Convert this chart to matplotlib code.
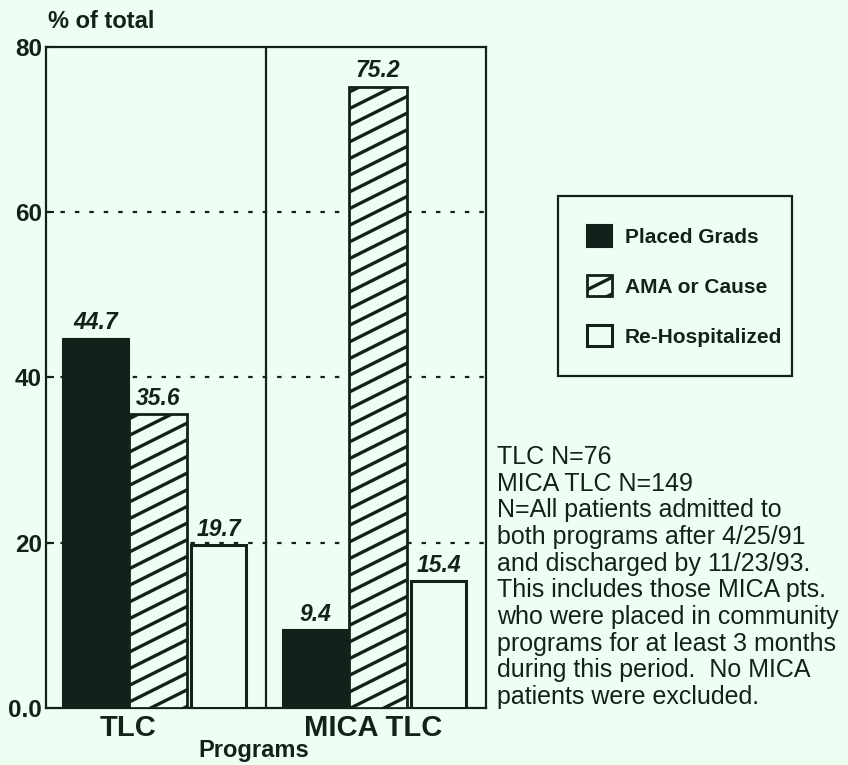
import numpy as np
import matplotlib
matplotlib.use("Agg")
import matplotlib.pyplot as plt
from matplotlib import hatch as mhatch
from matplotlib.path import Path

# ---- data -------------------------------------------------------------
programs = ["TLC", "MICA TLC"]
outcomes = ["Placed Grads", "AMA or Cause", "Re-Hospitalized"]
placed_grads = [44.7, 9.4]
ama_or_cause = [35.6, 75.2]
re_hospitalized = [19.7, 15.4]
y_ticks = [0, 20, 40, 60, 80]
y_tick_labels = ["0.0", "20", "40", "60", "80"]
note_lines = [
    "TLC N=76",
    "MICA TLC N=149",
    "N=All patients admitted to",
    "both programs after 4/25/91",
    "and discharged by 11/23/93.",
    "This includes those MICA pts.",
    "who were placed in community",
    "programs for at least 3 months",
    "during this period.  No MICA",
    "patients were excluded.",
]

BG = "#edfff3"
INK = "#13211a"


# '/' hatch drawn as shallow diagonal strokes (slope 1/2) that still tile
class ShallowNorthEastHatch(mhatch.HatchPatternBase):
    def __init__(self, hatch, density):
        self.num_lines = int(hatch.count('/') * density)
        self.offsets = (np.arange(-self.num_lines // 2, self.num_lines + 1)
                        / self.num_lines) if self.num_lines else np.array([])
        self.num_vertices = len(self.offsets) * 2

    def set_vertices_and_codes(self, vertices, codes):
        c = self.offsets
        vertices[0::2, 0] = 0.0
        vertices[0::2, 1] = c
        vertices[1::2, 0] = 1.0
        vertices[1::2, 1] = c + 0.5
        codes[0::2] = Path.MOVETO
        codes[1::2] = Path.LINETO


mhatch._hatch_types[:] = [ShallowNorthEastHatch if t is mhatch.NorthEastHatch else t
                          for t in mhatch._hatch_types]

plt.rcParams["font.family"] = ["Liberation Sans", "DejaVu Sans"]
plt.rcParams["hatch.linewidth"] = 2.4
plt.rcParams["hatch.color"] = INK

fig = plt.figure(figsize=(8.48, 7.65), dpi=100, facecolor=BG)
ax = fig.add_axes([46 / 848, 1 - 708 / 765, 440 / 848, 661 / 765], facecolor=BG)

group_x = np.arange(len(programs))
series = [placed_grads, ama_or_cause, re_hospitalized]
offsets = [0.075, 0.378, 0.66]
widths = [0.302, 0.262, 0.248]
styles = [
    dict(color=INK, edgecolor=INK, linewidth=1.5),
    dict(color=BG, edgecolor=INK, linewidth=2.0, hatch="/"),
    dict(color=BG, edgecolor=INK, linewidth=2.2),
]

handles = []
for vals, off, w, st, name in zip(series, offsets, widths, styles, outcomes):
    bars = ax.bar(group_x + off, vals, width=w, align="edge", zorder=3,
                  label=name, **st)
    handles.append(bars)
    for rect, v in zip(bars, vals):
        ax.annotate(f"{v:.1f}", (rect.get_x() + rect.get_width() / 2, v),
                    xytext=(0, 3), textcoords="offset points",
                    ha="center", va="bottom", fontsize=16.5,
                    fontweight="bold", fontstyle="italic", color=INK, zorder=4)

# dotted reference lines and panel divider
for y in y_ticks[1:-1]:
    ax.axhline(y, color=INK, linewidth=1.6, linestyle=(0, (2, 4.5)), zorder=1)
ax.axvline(1.0, color=INK, linewidth=1.6, zorder=2)

ax.set_xlim(0, 2)
ax.set_ylim(0, 80)
ax.set_yticks(y_ticks)
ax.set_yticklabels(y_tick_labels)
ax.set_xticks([0.373, 1.486])
ax.set_xticklabels(programs)
ax.tick_params(axis="y", direction="in", length=6, width=1.5, color=INK,
               pad=3, labelsize=17.5, labelcolor=INK)
ax.tick_params(axis="x", length=0, pad=4, labelsize=21, labelcolor=INK)
for lbl in ax.get_xticklabels() + ax.get_yticklabels():
    lbl.set_fontweight("bold")
for sp in ax.spines.values():
    sp.set_color(INK)
    sp.set_linewidth(1.6)

fig.text(48 / 848, 1 - 21 / 765, "% of total", fontsize=17, fontweight="bold",
         color=INK, ha="left", va="center")
fig.text(254 / 848, 1 - 750 / 765, "Programs", fontsize=17, fontweight="bold",
         color=INK, ha="center", va="center")

leg = ax.legend(handles=handles, labels=outcomes, loc="upper left",
                bbox_to_anchor=(558 / 848, 0.3, 234 / 848, 1 - 196 / 765 - 0.3),
                bbox_transform=fig.transFigure, borderaxespad=0, mode="expand",
                prop=dict(weight="bold", size=15),
                handlelength=1.2, handleheight=1.2, handletextpad=0.6,
                labelspacing=1.35, borderpad=1.4, fancybox=False,
                framealpha=1, facecolor=BG, edgecolor=INK)
leg.get_frame().set_linewidth(1.6)
for t in leg.get_texts():
    t.set_color(INK)

fig.text(497 / 848, 1 - 445 / 765, "\n".join(note_lines), fontsize=18,
         color=INK, ha="left", va="top", linespacing=1.14)

fig.savefig("out.png", dpi=100, facecolor=BG)
